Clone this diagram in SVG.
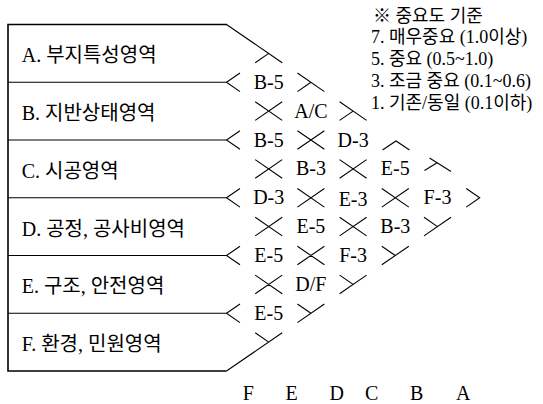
<svg xmlns="http://www.w3.org/2000/svg" width="543" height="404" viewBox="0 0 543 404">
<style>
  .ln{fill:none;stroke:#000;stroke-width:1.1;stroke-linecap:butt;stroke-linejoin:miter}
  .frame{fill:none;stroke:#000;stroke-width:1.6}
  .lbl{font-family:"Liberation Serif","Noto Sans CJK KR",serif;font-size:20px;fill:#000}
  .cell{font-family:"Liberation Serif","Noto Sans CJK KR",serif;font-size:20px;fill:#000;text-anchor:middle}
  .leg{font-family:"Liberation Serif","Noto Sans CJK KR",serif;font-size:18px;fill:#000}
  .ax{font-family:"Liberation Serif",serif;font-size:20px;fill:#000;text-anchor:middle}
</style>
<rect width="543" height="404" fill="#fff"/>
<g id="connectors">
  <path class="frame" d="M227 24.5 H8 V371 H226.5"/>
  <path class="ln" d="M8 82.3 H226.5 M8 140 H226.5 M8 197.8 H226.5 M8 255.5 H226.5 M8 313.3 H226.5"/>
  <path class="ln" d="M240 73 L226.5 82.3 L240 91.6 M240 130.7 L226.5 140 L240 149.3 M240 188.5 L226.5 197.8 L240 207.1 M240 246.2 L226.5 255.5 L240 264.8 M240 304 L226.5 313.3 L240 322.6"/>
  <path class="ln" d="M255.2 101.8 L282.2 120.4 M255.2 120.4 L282.2 101.8
    M255.2 159.6 L282.2 178.2 M255.2 178.2 L282.2 159.6
    M255.2 217.3 L282.2 235.9 M255.2 235.9 L282.2 217.3
    M255.2 275.1 L282.2 293.7 M255.2 293.7 L282.2 275.1
    M297.4 130.7 L324.4 149.3 M297.4 149.3 L324.4 130.7
    M297.4 188.5 L324.4 207.1 M297.4 207.1 L324.4 188.5
    M297.4 246.2 L324.4 264.8 M297.4 264.8 L324.4 246.2
    M339.6 159.6 L366.6 178.2 M339.6 178.2 L366.6 159.6
    M339.6 217.3 L366.6 235.9 M339.6 235.9 L366.6 217.3
    M381.8 188.5 L408.8 207.1 M381.8 207.1 L408.8 188.5"/>
  <path class="ln" d="M226.5 24.5 L282.2 62.7 M255.2 62.7 L268.7 53.4
    M297.4 73 L324.4 91.6 M297.4 91.6 L310.9 82.3
    M339.6 101.8 L366.6 120.4 M339.6 120.4 L353.1 111.1
    M382.5 150 L396 141 L409.5 150
    M429.5 158 L451 171.5 M424.5 170.5 L437.5 162.5
    M466.2 188.5 L479.7 197.8 L466.2 207.1"/>
  <path class="ln" d="M424 217.3 L437.5 226.6 M424 235.9 L451 217.3
    M381.8 246.2 L395.3 255.5 M381.8 264.8 L408.8 246.2
    M339.6 275.1 L353.1 284.4 M339.6 293.7 L366.6 275.1
    M297.4 304 L310.9 313.3 M297.4 322.6 L324.4 304
    M255.2 332.8 L268.7 342.1 M226.5 371 L282.2 332.8"/>
</g>
<g id="row-A"><text class="lbl" x="21.7" y="62">A. 부지특성영역</text></g>
<g id="row-B"><text class="lbl" x="21.7" y="120">B. 지반상태영역</text></g>
<g id="row-C"><text class="lbl" x="21.7" y="177.5">C. 시공영역</text></g>
<g id="row-D"><text class="lbl" x="21.7" y="235.5">D. 공정, 공사비영역</text></g>
<g id="row-E"><text class="lbl" x="21.7" y="293">E. 구조, 안전영역</text></g>
<g id="row-F"><text class="lbl" x="21.7" y="351">F. 환경, 민원영역</text></g>
<g id="cell-AB"><text class="cell" x="268.7" y="88.8">B-5</text></g>
<g id="cell-AC"><text class="cell" x="310.9" y="117.6">A/C</text></g>
<g id="cell-BC"><text class="cell" x="268.7" y="146.5">B-5</text></g>
<g id="cell-AD"><text class="cell" x="353.1" y="146.5">D-3</text></g>
<g id="cell-BD"><text class="cell" x="310.9" y="175.4">B-3</text></g>
<g id="cell-AE"><text class="cell" x="395.3" y="175.4">E-5</text></g>
<g id="cell-CD"><text class="cell" x="268.7" y="204.3">D-3</text></g>
<g id="cell-BE"><text class="cell" x="353.1" y="205.5">E-3</text></g>
<g id="cell-AF"><text class="cell" x="437.5" y="204.3">F-3</text></g>
<g id="cell-CE"><text class="cell" x="310.9" y="233.1">E-5</text></g>
<g id="cell-BF"><text class="cell" x="395.3" y="233.1">B-3</text></g>
<g id="cell-DE"><text class="cell" x="268.7" y="262">E-5</text></g>
<g id="cell-CF"><text class="cell" x="353.1" y="262">F-3</text></g>
<g id="cell-DF"><text class="cell" x="310.9" y="290.9">D/F</text></g>
<g id="cell-EF"><text class="cell" x="268.7" y="319.8">E-5</text></g>
<g id="legend">
  <text class="leg" x="373" y="21.5">※ 중요도 기준</text>
  <text class="leg" x="371" y="43">7. 매우중요 (1.0이상)</text>
  <text class="leg" x="371" y="65">5. 중요 (0.5~1.0)</text>
  <text class="leg" x="371" y="87">3. 조금 중요 (0.1~0.6)</text>
  <text class="leg" x="371" y="109">1. 기존/동일 (0.1이하)</text>
</g>
<g id="axis">
  <text class="ax" x="248.3" y="399.5">F</text>
  <text class="ax" x="291.7" y="399.5">E</text>
  <text class="ax" x="336.7" y="399.5">D</text>
  <text class="ax" x="371.7" y="399.5">C</text>
  <text class="ax" x="416.7" y="399.5">B</text>
  <text class="ax" x="463.3" y="399.5">A</text>
</g>
</svg>
